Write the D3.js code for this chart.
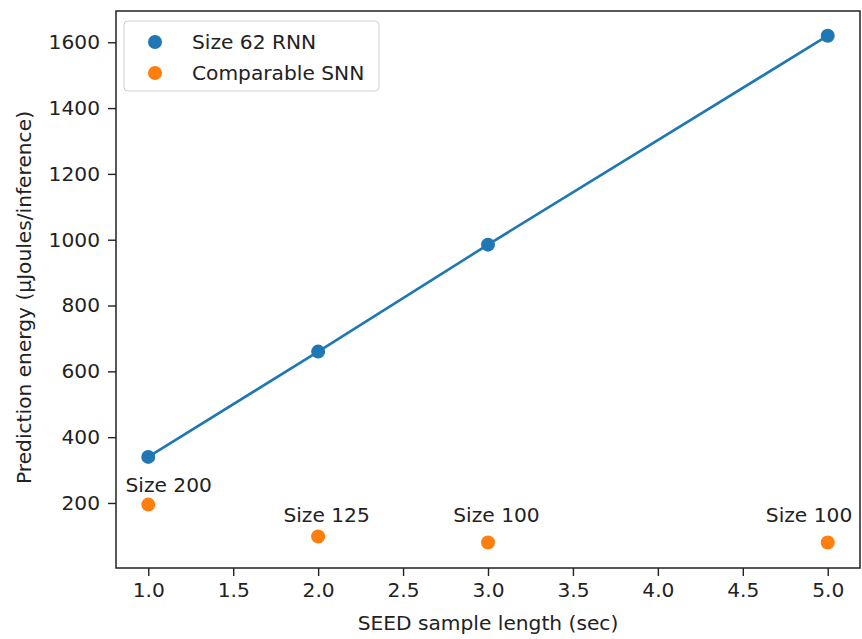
<!DOCTYPE html>
<html>
<head>
<meta charset="utf-8">
<script src="https://cdn.jsdelivr.net/npm/d3@7/dist/d3.min.js"></script>
<style>
  html, body { margin: 0; padding: 0; background: #fff; }
  svg { display: block; }
  text { font-family: "DejaVu Sans", sans-serif; fill: #222; }
</style>
</head>
<body>
<svg id="chart" width="862" height="639"></svg>
<script>
// ---- data ----
const sampleLengths = [1.0, 2.0, 3.0, 5.0];
const rnnEnergy = [340, 660, 985, 1620];
const snnEnergy = [195, 98, 80, 80];
const snnLabels = ["Size 200", "Size 125", "Size 100", "Size 100"];
const snnLabelX = [1.12, 2.05, 3.05, 4.89];
const snnLabelY = [234, 143, 143, 143];
const xTicks = [1.0, 1.5, 2.0, 2.5, 3.0, 3.5, 4.0, 4.5, 5.0];
const yTicks = [200, 400, 600, 800, 1000, 1200, 1400, 1600];
const seriesNames = ["Size 62 RNN", "Comparable SNN"];
const seriesColors = ["#1f77b4", "#ff7f0e"];

// ---- layout ----
const svg = d3.select("#chart");
const L = 116, R = 860, T = 11, B = 568;
const x = d3.scaleLinear().domain([0.81, 5.19]).range([L, R]);
const y = d3.scaleLinear().domain([2.4, 1695]).range([B, T]);
const fs = 20.2;

// line + RNN points
const line = d3.line().x((d, i) => x(sampleLengths[i])).y(d => y(d));
svg.append("path").datum(rnnEnergy)
  .attr("d", line).attr("fill", "none")
  .attr("stroke", seriesColors[0]).attr("stroke-width", 2.6);

svg.append("g").selectAll("circle").data(rnnEnergy).join("circle")
  .attr("cx", (d, i) => x(sampleLengths[i])).attr("cy", d => y(d))
  .attr("r", 7).attr("fill", seriesColors[0]);

svg.append("g").selectAll("circle").data(snnEnergy).join("circle")
  .attr("cx", (d, i) => x(sampleLengths[i])).attr("cy", d => y(d))
  .attr("r", 7).attr("fill", seriesColors[1]);

svg.append("g").selectAll("text").data(snnLabels).join("text")
  .attr("x", (d, i) => x(snnLabelX[i])).attr("y", (d, i) => y(snnLabelY[i]))
  .attr("text-anchor", "middle").attr("font-size", fs)
  .text(d => d);

// axes
const xAxis = d3.axisBottom(x).tickValues(xTicks).tickFormat(d3.format(".1f"))
  .tickSize(8).tickPadding(6);
const gx = svg.append("g").attr("transform", `translate(0,${B})`).call(xAxis);
const yAxis = d3.axisLeft(y).tickValues(yTicks).tickFormat(d3.format("d"))
  .tickSize(8).tickPadding(8);
const gy = svg.append("g").attr("transform", `translate(${L},0)`).call(yAxis);
[gx, gy].forEach(g => {
  g.select(".domain").remove();
  g.selectAll(".tick line").attr("stroke", "#222").attr("stroke-width", 1.4);
  g.selectAll(".tick text").attr("font-size", fs).attr("font-family", "DejaVu Sans, sans-serif").attr("fill", "#222");
});
gx.selectAll(".tick text").attr("dy", "0.75em");

// frame
svg.append("rect").attr("x", L).attr("y", T).attr("width", R - L).attr("height", B - T)
  .attr("fill", "none").attr("stroke", "#222").attr("stroke-width", 1.5);

// axis labels
svg.append("text").attr("x", (L + R) / 2).attr("y", 630)
  .attr("text-anchor", "middle").attr("font-size", fs)
  .text("SEED sample length (sec)");
svg.append("text")
  .attr("transform", `translate(31,${(T + B) / 2 + 8}) rotate(-90)`)
  .attr("text-anchor", "middle").attr("font-size", fs)
  .text("Prediction energy (μJoules/inference)");

// legend
const lg = svg.append("g");
lg.append("rect").attr("x", 124).attr("y", 21).attr("width", 255).attr("height", 70)
  .attr("rx", 4).attr("fill", "#fff").attr("fill-opacity", 0.8)
  .attr("stroke", "#d0d0d0").attr("stroke-width", 1);
seriesNames.forEach((name, i) => {
  lg.append("circle").attr("cx", 155).attr("cy", 42 + i * 31).attr("r", 7).attr("fill", seriesColors[i]);
  lg.append("text").attr("x", 192).attr("y", 49 + i * 30.5).attr("font-size", fs).text(name);
});
</script>
</body>
</html>
